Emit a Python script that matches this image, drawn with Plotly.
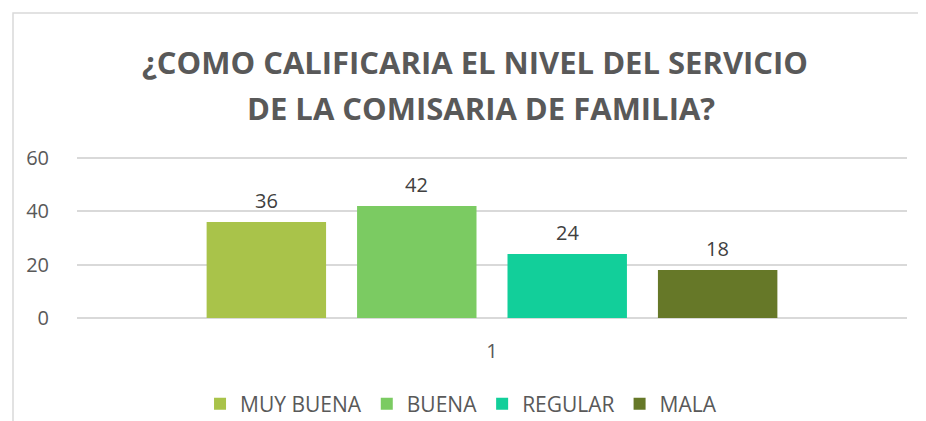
import plotly.graph_objects as go

categories = ["1"]
series_names = ["MUY BUENA", "BUENA", "REGULAR", "MALA"]
series_values = [[36], [42], [24], [18]]
series_colors = ["#A9C34A", "#7BCB62", "#12CF9A", "#667828"]
y_ticks = [0, 20, 40, 60]
title_lines = ["¿COMO CALIFICARIA EL NIVEL DEL SERVICIO", "DE LA COMISARIA DE FAMILIA?"]

FONT = "Open Sans"
GREY = "#595959"

W, H = 918, 413
ML, MR, MT, MB = 69, 19, 149, 103
BARGAP, GROUPGAP = 0.275, 0.206
plot_w = W - ML - MR
slot = plot_w * (1 - BARGAP) / len(series_names)

fig = go.Figure()
annotations = []
n = len(series_names)
for i, (name, vals, col) in enumerate(zip(series_names, series_values, series_colors)):
    fig.add_trace(go.Bar(
        x=categories, y=vals, name=name, marker=dict(color=col, line=dict(width=0)),
    ))
    for c, v in zip(categories, vals):
        annotations.append(dict(
            x=categories.index(c), y=v, xref="x", yref="y", text=str(v), showarrow=False,
            xshift=(i - (n - 1) / 2) * slot, yshift=22, yanchor="middle",
            font=dict(family=FONT, size=20, color="#404040"),
        ))

for txt, yp, xp in zip(title_lines, [1.59, 1.304], [0.479, 0.487]):
    annotations.append(dict(
        x=xp, y=yp, xref="paper", yref="paper", text=txt, showarrow=False,
        xanchor="center", yanchor="middle",
        font=dict(family=FONT, size=31, color=GREY, weight="bold"),
    ))

fig.update_layout(
    width=W, height=H,
    margin=dict(l=ML, r=MR, t=MT, b=MB),
    paper_bgcolor="white", plot_bgcolor="white",
    barmode="group", bargap=BARGAP, bargroupgap=GROUPGAP,
    showlegend=True,
    legend=dict(orientation="h", xref="container", yref="container",
                x=0.4935, xanchor="center", y=0.041, yanchor="middle",
                font=dict(family=FONT, size=21, color=GREY), itemwidth=30,
                traceorder="normal"),
    xaxis=dict(type="category", range=[-0.5, len(categories) - 0.5],
               showgrid=False, showline=False, ticks="",
               ticklabelstandoff=19,
               tickfont=dict(family=FONT, size=20, color=GREY)),
    yaxis=dict(range=[0, 60.4], tickvals=y_ticks, showgrid=True, gridcolor="#D9D9D9",
               gridwidth=1.5, zeroline=True, zerolinecolor="#D9D9D9", zerolinewidth=1.5,
               showline=False, ticks="", ticklabelstandoff=27,
               tickfont=dict(family=FONT, size=20, color=GREY)),
    annotations=annotations,
    shapes=[dict(type="rect", xref="paper", yref="paper",
                 x0=-0.0771, x1=1.2, y0=-1.0, y1=1.894,
                 line=dict(color="#D9D9D9", width=1.5), fillcolor="rgba(0,0,0,0)",
                 layer="below")],
)

fig.write_html("out.html")
